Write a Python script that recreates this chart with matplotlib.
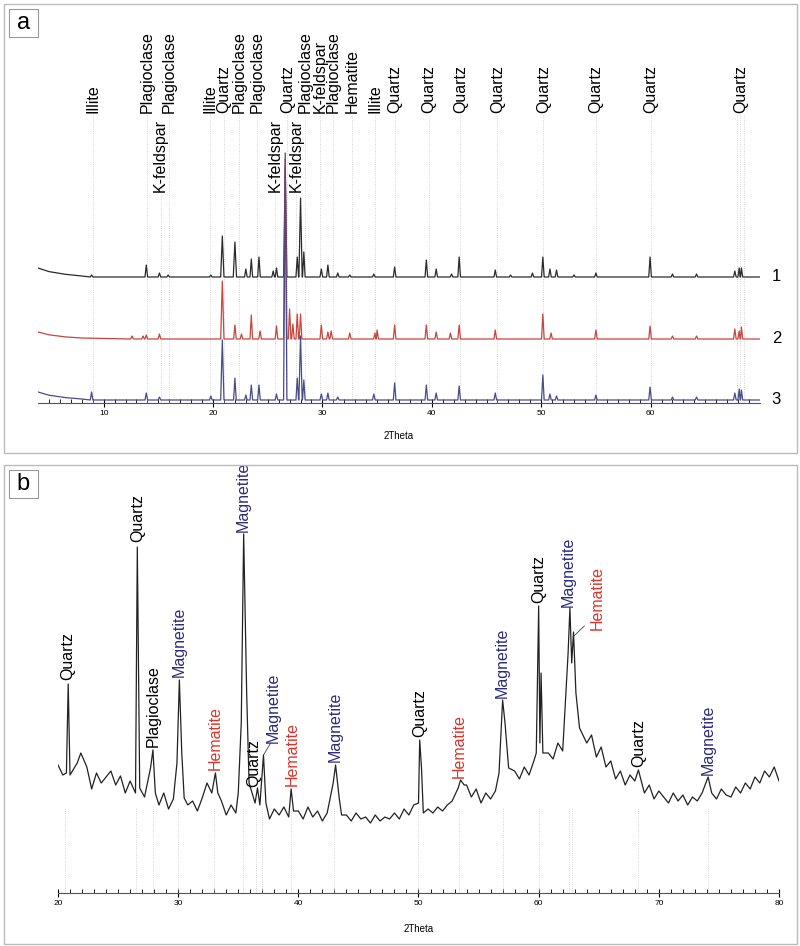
import numpy as np
import matplotlib
matplotlib.use('Agg')
from matplotlib import pyplot as plt
from matplotlib.patches import Rectangle

plt.rcParams['font.family'] = ['Liberation Sans', 'DejaVu Sans']

# ---- panel a data: peak positions and heights above each trace baseline
a_base = [126, 64, 3]              # trace offsets (1, 2, 3)
a_start = [9, 7, 8]                # rise at low angle
a_peaks = [
    [(8.9, 2), (13.9, 12), (15.1, 4), (15.9, 2), (19.8, 2), (20.85, 41), (22.0, 35),
     (23.0, 8), (23.5, 18), (24.2, 20), (25.5, 6), (25.8, 9), (26.6, 110), (27.7, 20),
     (28.0, 79), (28.3, 25), (29.9, 8), (30.5, 12), (31.4, 4), (32.5, 2), (34.7, 3),
     (36.6, 10), (39.5, 17), (40.4, 8), (41.8, 3), (42.5, 20), (45.8, 7), (47.2, 2),
     (49.2, 4), (50.15, 20), (50.8, 8), (51.4, 7), (53.0, 2), (55.0, 4), (59.95, 20),
     (62.0, 3), (64.2, 3), (67.7, 6), (68.1, 9), (68.3, 9)],
    [(12.6, 3), (13.6, 3), (13.9, 4), (15.1, 5), (20.85, 58), (22.0, 14), (22.6, 5),
     (23.5, 24), (24.3, 8), (25.8, 13), (26.6, 180), (27.0, 30), (27.3, 15), (27.7, 25),
     (28.0, 25), (29.9, 14), (30.5, 7), (30.8, 8), (32.5, 6), (34.8, 6), (35.0, 9),
     (36.6, 14), (39.5, 14), (40.4, 7), (41.7, 6), (42.5, 14), (45.8, 9), (50.15, 25),
     (50.9, 6), (55.0, 9), (59.95, 13), (62.0, 3), (64.2, 3), (67.7, 10), (68.1, 8),
     (68.3, 12)],
    [(8.9, 8), (13.9, 7), (15.1, 3), (19.8, 4), (20.85, 60), (22.0, 22), (23.0, 5),
     (23.5, 15), (24.2, 15), (25.8, 6), (26.6, 247), (27.7, 22), (28.0, 64), (28.3, 20),
     (29.9, 6), (30.5, 7), (31.4, 3), (34.7, 6), (36.6, 17), (39.5, 15), (40.4, 7),
     (42.5, 14), (45.8, 7), (50.15, 25), (50.8, 6), (51.4, 4), (55.0, 5), (59.95, 13),
     (62.0, 3), (64.2, 3), (67.7, 7), (68.1, 11), (68.3, 10)],
]
a_colors = ['#2b2b2b', '#c9453d', '#4b4b8c']

a_labels = ['Illite', 'Plagioclase', 'K-feldspar', 'Plagioclase', 'Illite', 'Quartz',
            'Plagioclase', 'Plagioclase', 'K-feldspar', 'Quartz', 'K-feldspar',
            'Plagioclase', 'K-feldspar', 'Plagioclase', 'Hematite', 'Illite', 'Quartz',
            'Quartz', 'Quartz', 'Quartz', 'Quartz', 'Quartz', 'Quartz', 'Quartz']
a_label_x = [9.0, 14.0, 15.2, 16.0, 19.7, 21.0, 22.4, 24.0, 25.7, 26.8, 27.6, 28.4,
             29.8, 31.0, 32.7, 34.8, 36.6, 39.7, 42.6, 46.0, 50.2, 55.0, 60.0, 68.2]
a_low_x = [15.2, 25.7, 27.6]       # K-feldspar labels set lower
a_extra_lines = [67.9, 68.5]

# ---- panel b data
b_base_y = [128, 118, 132, 122, 130, 112, 126, 104, 120, 110,
            116, 122, 108, 117, 100, 112, 98, 108, 96, 104,
            96, 88, 100, 84, 94, 86, 98, 88, 92, 82,
            95, 86, 100, 84, 92, 78, 88, 80, 84, 92,
            84, 90, 80, 86, 74, 84, 78, 86, 76, 82,
            82, 74, 86, 76, 82, 72, 80, 86, 74, 78,
            78, 72, 80, 74, 76, 70, 78, 72, 76, 74,
            80, 74, 84, 78, 88, 92, 76, 84, 80, 86,
            82, 88, 92, 86, 102, 108, 96, 104, 90, 100,
            94, 102, 112, 120, 108, 122, 114, 126, 118, 132,
            136, 128, 140, 134, 150, 142, 158, 166, 176, 160,
            150, 158, 136, 146, 126, 132, 114, 122, 108, 118,
            112, 104, 100, 108, 94, 102, 96, 90, 100, 92,
            98, 88, 96, 92, 100, 108, 100, 94, 104, 98,
            96, 106, 100, 110, 104, 116, 110, 122, 116, 126,
            112]
b_base_x = np.linspace(20, 80, len(b_base_y))
b_peaks = [(20.7, 120), (20.85, 209), (21.0, 118), (21.9, 140),
           (26.45, 100), (26.6, 346), (26.8, 105), (27.7, 125), (27.9, 143), (28.1, 100),
           (29.9, 130), (30.1, 213), (30.3, 140), (30.5, 95), (32.4, 110), (33.1, 120),
           (33.3, 100), (35.0, 100), (35.25, 170), (35.45, 359), (35.7, 200), (35.9, 110),
           (36.4, 90), (36.6, 105), (36.8, 88), (37.1, 138), (37.3, 90), (39.4, 104),
           (42.9, 110), (43.1, 128), (43.4, 95), (50.0, 90), (50.1, 153), (50.25, 125),
           (50.4, 80), (53.3, 105), (53.5, 113), (53.8, 108), (56.7, 120), (57.0, 193),
           (57.2, 170), (57.5, 125), (59.8, 140), (60.0, 287), (60.1, 150), (60.2, 220),
           (60.35, 140), (62.2, 185), (62.45, 240), (62.6, 285), (62.75, 230), (62.9, 261),
           (63.1, 200), (63.4, 165), (68.3, 123), (74.1, 116)]

b_labels = ['Quartz', 'Quartz', 'Plagioclase', 'Magnetite', 'Hematite', 'Magnetite',
            'Quartz', 'Magnetite', 'Hematite', 'Magnetite', 'Quartz', 'Hematite',
            'Magnetite', 'Quartz', 'Magnetite', 'Hematite', 'Quartz', 'Magnetite']
b_label_x = [20.85, 26.6, 27.9, 30.1, 33.1, 35.45, 36.25, 37.9, 39.5, 43.1, 50.1, 53.4,
             57.0, 60.0, 62.5, 64.9, 68.3, 74.1]
b_label_y = [213, 351, 146, 216, 123, 361, 106, 150, 107, 131, 156, 115, 195, 290, 286,
             263, 126, 118]
b_line_x = [20.6, 26.5, 27.9, 30.0, 33.0, 35.4, 36.5, 37.0, 39.4, 43.0, 50.0, 53.4,
            57.0, 60.0, 62.5, 62.8, 68.3, 74.1]
b_colors = {'Quartz': 'black', 'Plagioclase': 'black', 'Magnetite': '#2e2b7c',
            'Hematite': '#d8352c'}

fig = plt.figure(figsize=(8, 9.46), dpi=100)
W, H = 800, 946

# panel frames and letter boxes
for y0, y1, letter in [(4, 453, 'a'), (465, 944, 'b')]:
    fig.patches.append(Rectangle((4 / W, 1 - y1 / H), 793 / W, (y1 - y0) / H,
                                 transform=fig.transFigure, fill=False,
                                 edgecolor='#bbbbbb', lw=1))
    fig.patches.append(Rectangle((9 / W, 1 - (y0 + 33) / H), 29 / W, 28 / H,
                                 transform=fig.transFigure, fill=False,
                                 edgecolor='#999999', lw=0.8))
    fig.text(23.5 / W, 1 - (y0 + 19) / H, letter, fontsize=17, ha='center', va='center')

# ---- panel a
axa = fig.add_axes([38 / W, 1 - 403 / H, 722 / W, 383 / H])
for xl, name in zip(a_label_x, a_labels):
    ytop = 211 if xl in a_low_x else 290
    axa.vlines(xl, 0, ytop - 2, color='#c8c8c8', lw=0.6, ls=':')
    axa.text(xl, ytop, name, rotation=90, ha='center', va='bottom', fontsize=11.5)
for xl in a_extra_lines:
    axa.vlines(xl, 0, 288, color='#c8c8c8', lw=0.6, ls=':')

for k in range(3):
    b = a_base[k]
    pts = [(4.0, b + a_start[k]), (5.0, b + a_start[k] * 0.6), (6.5, b + a_start[k] * 0.3),
           (8.0, b + 1), (70.0, b)]
    for px, h in a_peaks[k]:
        w = 0.15 if h > 30 else 0.12
        pts += [(px - w, b), (px, b + h), (px + w, b)]
    pts.sort()
    xs, ys = zip(*pts)
    axa.plot(xs, ys, color=a_colors[k], lw=0.9)
    axa.text(71.5, b + 1, str(k + 1), fontsize=12, ha='center', va='center', clip_on=False)

axa.set_xlim(4, 70)
axa.set_ylim(0, 383)
for s in ['top', 'right', 'left']:
    axa.spines[s].set_visible(False)
axa.spines['bottom'].set_color('#555555')
axa.set_yticks([])
axa.set_xticks([10, 20, 30, 40, 50, 60])
axa.set_xticks(np.arange(5, 70), minor=True)
axa.tick_params(axis='x', which='major', direction='inout', length=6, labelsize=6, pad=2)
axa.tick_params(axis='x', which='minor', direction='in', length=3)
axa.set_xlabel('2Theta', fontsize=7, labelpad=10)
axa.patch.set_alpha(0)

# ---- panel b
axb = fig.add_axes([58 / W, 1 - 893 / H, 721 / W, 425 / H])
for xl in b_line_x:
    axb.vlines(xl, 0, 85, color='#c8c8c8', lw=0.6, ls=':')
peak_x = np.array([p[0] for p in b_peaks])
pts = [(x, y) for x, y in zip(b_base_x, b_base_y) if np.min(np.abs(peak_x - x)) > 0.12]
pts += b_peaks
pts.sort()
xs, ys = zip(*pts)
axb.plot(xs, ys, color='#222222', lw=0.9)
for name, xl, yl in zip(b_labels, b_label_x, b_label_y):
    axb.text(xl, yl, name, rotation=90, ha='center', va='bottom', fontsize=11.5,
             color=b_colors[name])
# leader lines
axb.plot([37.1, 37.7], [138, 150], color='#444444', lw=0.6)
axb.plot([62.85, 63.8], [256, 267], color='#444444', lw=0.6)

axb.set_xlim(20, 80)
axb.set_ylim(0, 425)
for s in ['top', 'right', 'left']:
    axb.spines[s].set_visible(False)
axb.spines['bottom'].set_color('#555555')
axb.set_yticks([])
axb.set_xticks([20, 30, 40, 50, 60, 70, 80])
axb.set_xticks(np.arange(20, 81), minor=True)
axb.tick_params(axis='x', which='major', direction='inout', length=6, labelsize=6, pad=2)
axb.tick_params(axis='x', which='minor', direction='in', length=3)
axb.set_xlabel('2Theta', fontsize=7, labelpad=12)
axb.patch.set_alpha(0)

fig.savefig('out.png', dpi=100)
